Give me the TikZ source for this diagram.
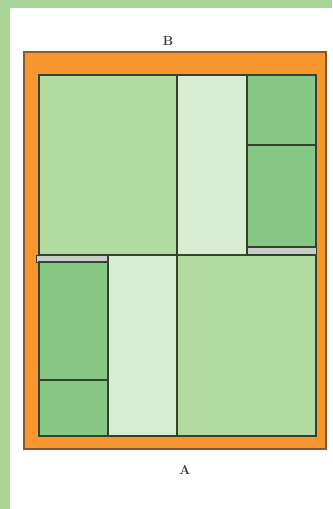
\documentclass[tikz,border=0pt]{standalone}
\usepackage{tikz}
\usetikzlibrary{calc}
\usepackage{xcolor}
\definecolor{frameGreen}{HTML}{A9D597}
\definecolor{boardOrange}{HTML}{F7952F}
\definecolor{fieldGreen}{HTML}{B3DBA0}
\definecolor{paleGreen}{HTML}{D8EDCF}
\definecolor{darkField}{HTML}{86C785}
\definecolor{stripGrey}{HTML}{C9CDC9}
\definecolor{edgeDark}{HTML}{34432D}
\tikzstyle{board} = [fill=boardOrange, draw=brown!70!black, line width=1.3pt]
\tikzstyle{field} = [fill=fieldGreen, draw=edgeDark, line width=1.3pt]
\tikzstyle{pale} = [fill=paleGreen, draw=edgeDark, line width=1.3pt]
\tikzstyle{darkbox} = [fill=darkField, draw=edgeDark, line width=1.3pt]
\tikzstyle{strip} = [fill=stripGrey, draw=edgeDark, line width=1pt]

\begin{document}
\begin{tikzpicture}[
            x=1bp, y=-1bp,
            every node/.style={text centered, font=\fontsize{13}{15}\selectfont\bfseries, text=black!80}
        ]
            % Frame
            \fill[frameGreen] (0,0) rectangle (332,509);
            \fill[white] (10,8) rectangle (332,509);
            \useasboundingbox (0,0) rectangle (332,509);

            % Board
            \draw[board] (24,52) rectangle (326,449);

            % Upper half
            \draw[field] (39,75) rectangle (177,255);
            \draw[pale] (177,75) rectangle (247,255);
            \draw[darkbox] (247,75) rectangle (316,145);
            \draw[darkbox] (247,145) rectangle (316,247);
            \draw[strip] (247,247) rectangle (316,255);

            % Lower half
            \draw[strip] (36,255) rectangle (108,262);
            \draw[darkbox] (39,262) rectangle (108,380);
            \draw[darkbox] (39,380) rectangle (108,436);
            \draw[pale] (108,255) rectangle (177,436);
            \draw[field] (177,255) rectangle (316,436);

            % Labels
            \node (labelB) at (168,41) {B};
            \node (labelA) at (185,470) {A};
        \end{tikzpicture}
\end{document}
